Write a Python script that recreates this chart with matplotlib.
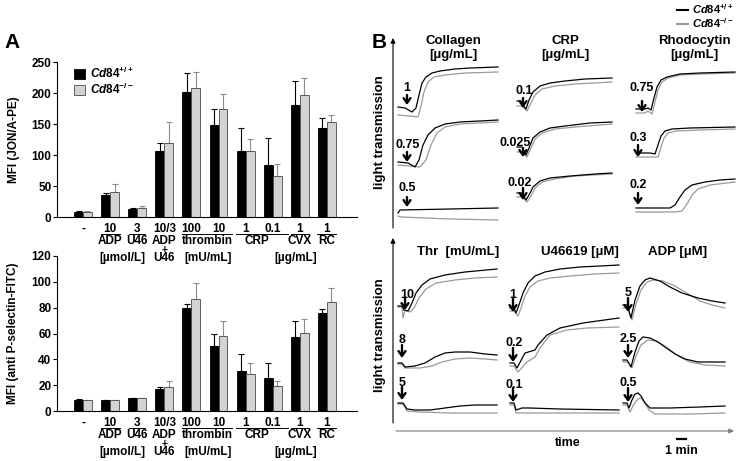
import numpy as np
import matplotlib
matplotlib.use('Agg')
import matplotlib.pyplot as plt
from matplotlib.lines import Line2D
from matplotlib.patches import Patch

plt.rcParams['font.family'] = ['Liberation Sans', 'DejaVu Sans']
plt.rcParams['font.weight'] = 'bold'
plt.rcParams['mathtext.fontset'] = 'custom'
plt.rcParams['mathtext.it'] = 'Liberation Sans:italic:bold'
plt.rcParams['mathtext.rm'] = 'Liberation Sans:bold'

# ---- panel A data (MFI, mean + SD) ----
groups = ['-', '10', '3', '10/3', '100', '10', '1', '0.1', '1', '1']
jon_wt = [8, 35, 13, 106, 201, 148, 106, 84, 181, 144]
jon_wt_err = [1, 4, 1, 14, 31, 27, 38, 44, 38, 15]
jon_ko = [8, 40, 15, 120, 208, 174, 106, 66, 197, 154]
jon_ko_err = [1, 14, 2, 33, 26, 24, 20, 20, 28, 10]

psel_wt = [8.5, 8.5, 9.7, 17, 80, 50.7, 31, 25.5, 57.4, 76]
psel_wt_err = [0.5, 0.3, 0.3, 1.5, 2.6, 9, 13.3, 11.3, 12, 3.3]
psel_ko = [8.3, 8.5, 9.7, 18.8, 87, 58, 28.6, 19.3, 60.3, 84.7]
psel_ko_err = [0.3, 0.3, 0.3, 4.6, 12.4, 11.5, 8.4, 4.1, 11.3, 10.8]

# ---- panel B aggregation traces (time in s, light transmission in %) ----
coll1_wt_t = [0, 42, 84, 108, 126, 144, 168, 204, 252, 342, 432, 600]
coll1_wt = [30, 28, 20, 28, 54, 78, 90, 98, 102, 106, 108, 110]
coll1_ko_t = [0, 72, 120, 138, 156, 180, 216, 282, 402, 600]
coll1_ko = [14, 12, 10, 32, 60, 80, 90, 94, 98, 100]
coll2_wt_t = [0, 60, 102, 126, 150, 180, 222, 282, 372, 492, 600]
coll2_wt = [20, 18, 10, 24, 54, 74, 88, 96, 100, 102, 104]
coll2_ko_t = [0, 72, 132, 168, 198, 234, 282, 372, 600]
coll2_ko = [14, 12, 10, 24, 54, 78, 90, 96, 100]
coll3_wt_t = [0, 12, 312, 600]
coll3_wt = [18, 24, 26, 28]
coll3_ko_t = [0, 18, 312, 600]
coll3_ko = [12, 10, 6, 4]

crp1_wt_t = [0, 24, 30, 54, 72, 96, 138, 198, 288, 408, 570]
crp1_wt = [42, 42, 36, 26, 44, 60, 72, 78, 82, 86, 88]
crp1_ko_t = [0, 30, 42, 60, 84, 108, 150, 228, 348, 570]
crp1_ko = [32, 32, 28, 22, 38, 54, 66, 72, 76, 80]
crp2_wt_t = [0, 30, 54, 72, 96, 138, 198, 288, 438, 570]
crp2_wt = [50, 50, 34, 48, 68, 80, 88, 92, 98, 100]
crp2_ko_t = [0, 30, 60, 84, 108, 150, 228, 348, 570]
crp2_ko = [40, 40, 30, 48, 66, 78, 86, 90, 96]
crp3_wt_t = [0, 30, 54, 72, 96, 138, 198, 318, 468, 570]
crp3_wt = [58, 58, 44, 54, 70, 82, 88, 92, 96, 98]
crp3_ko_t = [0, 30, 60, 84, 108, 150, 228, 348, 570]
crp3_ko = [50, 50, 40, 52, 68, 80, 86, 92, 96]

rc1_wt_t = [0, 54, 72, 90, 108, 126, 150, 186, 264, 384, 594]
rc1_wt = [26, 26, 28, 24, 48, 70, 84, 90, 96, 98, 100]
rc1_ko_t = [0, 54, 72, 96, 114, 132, 156, 192, 264, 384, 594]
rc1_ko = [18, 18, 22, 16, 40, 64, 80, 88, 94, 96, 98]
rc2_wt_t = [0, 84, 114, 132, 150, 174, 216, 324, 594]
rc2_wt = [38, 38, 36, 54, 72, 82, 86, 88, 90]
rc2_ko_t = [0, 96, 132, 150, 168, 192, 240, 384, 594]
rc2_ko = [30, 30, 30, 50, 68, 78, 82, 84, 86]
rc3_wt_t = [0, 144, 204, 234, 264, 294, 336, 414, 504, 594]
rc3_wt = [28, 28, 28, 34, 50, 64, 74, 80, 84, 86]
rc3_ko_t = [0, 234, 276, 306, 336, 372, 444, 594]
rc3_ko = [20, 20, 22, 36, 54, 66, 74, 80]

thr1_wt_t = [0, 24, 36, 60, 84, 108, 144, 192, 282, 402, 594]
thr1_wt = [32, 32, 24, 22, 38, 58, 74, 86, 94, 100, 106]
thr1_ko_t = [0, 24, 30, 42, 72, 96, 126, 168, 228, 342, 462, 594]
thr1_ko = [30, 30, 8, 24, 20, 28, 48, 66, 78, 84, 88, 90]
thr2_wt_t = [0, 24, 42, 102, 162, 222, 282, 342, 432, 522, 594]
thr2_wt = [22, 22, 14, 16, 22, 34, 42, 44, 44, 40, 38]
thr2_ko_t = [0, 24, 42, 132, 204, 264, 342, 432, 522, 594]
thr2_ko = [20, 20, 12, 12, 16, 24, 30, 32, 30, 28]
thr3_wt_t = [0, 30, 54, 102, 192, 282, 372, 462, 594]
thr3_wt = [30, 30, 18, 16, 16, 20, 24, 26, 26]
thr3_ko_t = [0, 30, 54, 132, 312, 594]
thr3_ko = [28, 28, 14, 12, 10, 10]

u46_1_wt_t = [0, 24, 36, 54, 78, 108, 150, 210, 300, 420, 540, 654]
u46_1_wt = [28, 28, 18, 34, 58, 78, 92, 100, 106, 110, 112, 114]
u46_1_ko_t = [0, 24, 48, 66, 90, 120, 168, 240, 360, 510, 654]
u46_1_ko = [22, 22, 12, 28, 52, 70, 82, 88, 92, 96, 98]
u46_2_wt_t = [0, 24, 42, 90, 150, 168, 222, 300, 438, 654]
u46_2_wt = [22, 22, 12, 42, 48, 58, 78, 92, 102, 112]
u46_2_ko_t = [0, 24, 48, 102, 150, 180, 240, 342, 462, 654]
u46_2_ko = [16, 16, 4, 24, 34, 52, 78, 88, 92, 94]
u46_3_wt_t = [0, 24, 36, 72, 120, 300, 654]
u46_3_wt = [30, 30, 16, 20, 20, 18, 16]
u46_3_ko_t = [0, 24, 36, 120, 654]
u46_3_ko = [26, 26, 10, 10, 10]

adp1_wt_t = [0, 24, 48, 72, 102, 132, 162, 222, 282, 354, 450, 534, 612]
adp1_wt = [34, 34, 8, 44, 72, 84, 88, 82, 70, 58, 48, 42, 38]
adp1_ko_t = [0, 30, 54, 78, 108, 144, 180, 240, 300, 372, 462, 534, 612]
adp1_ko = [28, 28, 4, 36, 64, 80, 84, 82, 74, 60, 42, 34, 28]
adp2_wt_t = [0, 24, 48, 72, 96, 120, 162, 210, 252, 312, 372, 450, 612]
adp2_wt = [28, 28, 14, 44, 66, 74, 72, 64, 54, 40, 30, 24, 24]
adp2_ko_t = [0, 30, 54, 78, 108, 150, 198, 240, 282, 342, 402, 492, 612]
adp2_ko = [24, 24, 12, 36, 58, 68, 66, 58, 48, 34, 24, 18, 16]
adp3_wt_t = [0, 24, 36, 54, 72, 90, 108, 132, 162, 282, 462, 612]
adp3_wt = [30, 30, 20, 36, 48, 50, 44, 30, 20, 20, 22, 24]
adp3_ko_t = [0, 24, 42, 66, 90, 108, 132, 156, 192, 402, 612]
adp3_ko = [26, 26, 12, 28, 38, 40, 30, 16, 8, 8, 10]

W, H = 740, 461
fig = plt.figure(figsize=(7.4, 4.61), dpi=100)


def box(x, y, w, h):
    # pixel box (top-left origin) -> figure fraction
    return [x / W, 1 - (y + h) / H, w / W, h / H]


# ---------------- panel A ----------------
def bar_panel(ax, wt, wt_err, ko, ko_err, ymax, step, ylabel):
    x = np.arange(len(wt))
    zeros = np.zeros(len(wt))
    ax.patch.set_visible(False)
    ax.bar(x - 0.165, wt, 0.33, color='black', edgecolor='black', lw=0.6, zorder=2)
    ax.bar(x + 0.165, ko, 0.33, color='#d3d3d3', edgecolor='#4a4a4a', lw=0.6, zorder=2)
    ax.errorbar(x - 0.165, wt, yerr=[zeros, wt_err], fmt='none', ecolor='black',
                elinewidth=0.8, capsize=2, capthick=0.8, zorder=1)
    ax.errorbar(x + 0.165, ko, yerr=[zeros, ko_err], fmt='none', ecolor='#8c8c8c',
                elinewidth=0.8, capsize=2, capthick=0.8, zorder=1)
    ax.set_xlim(-0.96, 10.11)
    ax.set_ylim(0, ymax)
    ax.set_yticks(np.arange(0, ymax + 1, step))
    ax.set_xticks([])
    ax.tick_params(axis='y', labelsize=8.5, length=3, width=0.8, pad=1)
    for s in ['top', 'right']:
        ax.spines[s].set_visible(False)
    ax.spines['left'].set_linewidth(0.8)
    ax.spines['bottom'].set_linewidth(0.8)
    ax.set_ylabel(ylabel, fontsize=8.5, fontweight='bold')
    ax.yaxis.set_label_coords(-0.125, 0.5)

    tr = ax.get_xaxis_transform()
    fs = 8.5
    for i, g in enumerate(groups):
        ax.text(i, -0.075, g, transform=tr, ha='center', va='center', fontsize=fs)
    for x0, x1 in [(0.65, 1.35), (1.7, 2.3), (3.65, 5.5), (5.65, 7.55), (7.68, 8.35), (8.65, 9.35)]:
        ax.plot([x0, x1], [-0.112, -0.112], transform=tr, color='black', lw=0.7, clip_on=False)
    for xc, lab in [(1, 'ADP'), (2, 'U46'), (3, 'ADP'), (4.6, 'thrombin'), (6.4, 'CRP'),
                    (8, 'CVX'), (9, 'RC')]:
        ax.text(xc, -0.158, lab, transform=tr, ha='center', va='center', fontsize=fs)
    ax.text(3, -0.212, '+', transform=tr, ha='center', va='center', fontsize=7.5)
    for xc, lab in [(1.45, '[µmol/L]'), (3, 'U46'), (4.6, '[mU/mL]'), (7.85, '[µg/mL]')]:
        ax.text(xc, -0.262, lab, transform=tr, ha='center', va='center', fontsize=fs)


axA1 = fig.add_axes(box(57, 62, 300, 155))
bar_panel(axA1, jon_wt, jon_wt_err, jon_ko, jon_ko_err, 250, 50, 'MFI (JON/A-PE)')
axA2 = fig.add_axes(box(57, 256, 300, 155))
bar_panel(axA2, psel_wt, psel_wt_err, psel_ko, psel_ko_err, 120, 20, 'MFI (anti P-selectin-FITC)')
axA1.set_zorder(3)

axA1.legend(handles=[Patch(facecolor='black', edgecolor='black', lw=0.6),
                     Patch(facecolor='#d3d3d3', edgecolor='#4a4a4a', lw=0.6)],
            labels=[r'$\mathit{Cd84}^{+/+}$', r'$\mathit{Cd84}^{-/-}$'],
            loc='upper left', bbox_to_anchor=(0.03, 1.03), frameon=False, fontsize=8.5,
            handlelength=0.9, handleheight=0.9, handletextpad=0.4, labelspacing=0.1,
            borderpad=0.2)

# ---------------- panel B ----------------
panels = [
    # x0 px, row bottom px, traces, dose, (t_text, v_text, t_arrow, v_tail, v_head)
    (398, 122, coll1_wt_t, coll1_wt, coll1_ko_t, coll1_ko, '1', (54, 68, 54, 54, 34)),
    (398, 172, coll2_wt_t, coll2_wt, coll2_ko_t, coll2_ko, '0.75', (56, 54, 54, 40, 20)),
    (398, 222, coll3_wt_t, coll3_wt, coll3_ko_t, coll3_ko, '0.5', (54, 68, 54, 50, 30)),
    (517, 122, crp1_wt_t, crp1_wt, crp1_ko_t, crp1_ko, '0.1', (44, 62, 36, 48, 28)),
    (517, 172, crp2_wt_t, crp2_wt, crp2_ko_t, crp2_ko, '0.025', (-12, 58, 36, 48, 30)),
    (517, 222, crp3_wt_t, crp3_wt, crp3_ko_t, crp3_ko, '0.02', (18, 78, 36, 68, 44)),
    (636, 122, rc1_wt_t, rc1_wt, rc1_ko_t, rc1_ko, '0.75', (36, 68, 36, 42, 20)),
    (636, 172, rc2_wt_t, rc2_wt, rc2_ko_t, rc2_ko, '0.3', (12, 68, 12, 54, 30)),
    (636, 222, rc3_wt_t, rc3_wt, rc3_ko_t, rc3_ko, '0.2', (12, 74, 12, 58, 34)),
    (398, 322, thr1_wt_t, thr1_wt, thr1_ko_t, thr1_ko, '10', (58, 54, 42, 48, 24)),
    (398, 374, thr2_wt_t, thr2_wt, thr2_ko_t, thr2_ko, '8', (24, 68, 24, 58, 32)),
    (398, 418, thr3_wt_t, thr3_wt, thr3_ko_t, thr3_ko, '5', (24, 70, 24, 62, 36)),
    (510, 322, u46_1_wt_t, u46_1_wt, u46_1_ko_t, u46_1_ko, '1', (18, 54, 18, 48, 20)),
    (510, 374, u46_2_wt_t, u46_2_wt, u46_2_ko_t, u46_2_ko, '0.2', (24, 62, 18, 52, 24)),
    (510, 418, u46_3_wt_t, u46_3_wt, u46_3_ko_t, u46_3_ko, '0.1', (24, 66, 18, 60, 32)),
    (623, 322, adp1_wt_t, adp1_wt, adp1_ko_t, adp1_ko, '5', (30, 58, 30, 48, 20)),
    (623, 374, adp2_wt_t, adp2_wt, adp2_ko_t, adp2_ko, '2.5', (30, 70, 30, 58, 32)),
    (623, 418, adp3_wt_t, adp3_wt, adp3_ko_t, adp3_ko, '0.5', (30, 70, 30, 60, 32)),
]

for x0, yb, wt_t, wt_v, ko_t, ko_v, dose, (tt, vt, ta, v0, v1) in panels:
    ax = fig.add_axes(box(x0, yb - 60, 100, 60))
    ax.set_xlim(0, 600)
    ax.set_ylim(0, 120)
    ax.axis('off')
    ax.plot(ko_t, ko_v, color='#9a9a9a', lw=0.9, clip_on=False)
    ax.plot(wt_t, wt_v, color='black', lw=0.9, clip_on=False)
    ax.text(tt, vt, dose, ha='center', va='center', fontsize=9, clip_on=False)
    ax.annotate('', xy=(ta, v1), xytext=(ta, v0), annotation_clip=False,
                arrowprops=dict(arrowstyle='->,head_length=0.35,head_width=0.25',
                                lw=1.7, color='black', shrinkA=0, shrinkB=0))

fig.legend(handles=[Line2D([], [], color='black', lw=1.5),
                    Line2D([], [], color='#9a9a9a', lw=1.5)],
           labels=[r'$\mathit{Cd84}^{+/+}$', r'$\mathit{Cd84}^{-/-}$'],
           loc='upper right', bbox_to_anchor=(1.0, 1.01), frameon=False, fontsize=8,
           handlelength=1.0, handletextpad=0.3, labelspacing=0.05, borderpad=0.1)

# overlay in pixel coordinates for labels and axis arrows
ov = fig.add_axes([0, 0, 1, 1])
ov.set_xlim(0, W)
ov.set_ylim(H, 0)
ov.axis('off')

ov.text(12, 42, 'A', fontsize=15, ha='center', va='center')
ov.text(379, 42, 'B', fontsize=15, ha='center', va='center')

for txt, x, y in [('Collagen', 453, 41), ('[µg/mL]', 453, 55), ('CRP', 565, 41),
                  ('[µg/mL]', 565, 55), ('Rhodocytin', 694, 41), ('[µg/mL]', 694, 55),
                  ('Thr  [mU/mL]', 458, 252), ('U46619 [µM]', 580, 252), ('ADP [µM]', 678, 252)]:
    ov.text(x, y, txt, ha='center', va='center', fontsize=9.5)

ov.text(380, 132, 'light transmission', rotation=90, ha='center', va='center', fontsize=9.5)
ov.text(380, 335, 'light transmission', rotation=90, ha='center', va='center', fontsize=9.5)

arw = dict(arrowstyle='-|>', lw=0.8, color='black', mutation_scale=7, shrinkA=0, shrinkB=0)
ov.annotate('', xy=(393, 38), xytext=(393, 228), arrowprops=arw)
ov.annotate('', xy=(393, 238), xytext=(393, 423), arrowprops=arw)
ov.annotate('', xy=(734, 431), xytext=(396, 431),
            arrowprops=dict(arw, color='#7a7a7a'))

ov.text(568, 443, 'time', ha='center', va='center', fontsize=9)
ov.plot([677, 686], [439, 439], color='black', lw=1.6)
ov.text(681, 451, '1 min', ha='center', va='center', fontsize=9)

fig.savefig('out.png', dpi=100)
